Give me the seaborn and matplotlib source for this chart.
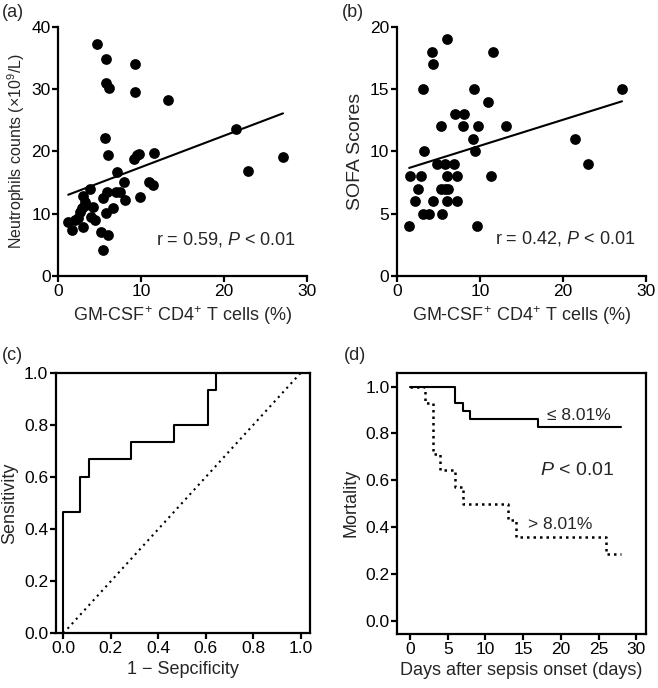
import matplotlib
matplotlib.use("Agg")
import matplotlib.pyplot as plt
import seaborn as sns

# (a) GM-CSF+ CD4+ T cells vs neutrophil counts
gm_a = [4.7, 5.8, 9.3, 5.8, 6.1, 9.3, 13.2, 5.6, 21.4, 6.0, 9.1, 9.5, 9.7, 11.6,
        7.1, 7.9, 10.9, 11.4, 5.9, 7.0, 7.4, 3.8, 3.0, 5.4, 8.1, 9.8, 6.6, 5.8,
        4.2, 3.2, 2.8, 2.6, 4.0, 4.4, 2.4, 2.0, 1.2, 1.6, 3.0, 5.2, 6.0, 5.4,
        22.9, 27.1, 3.3]
neut = [37.3, 34.9, 34.0, 30.9, 30.2, 29.6, 28.3, 22.2, 23.6, 19.4, 18.7, 19.4,
        19.6, 19.8, 16.7, 15.1, 15.1, 14.6, 13.5, 13.5, 13.4, 13.9, 12.8, 12.5,
        12.2, 12.6, 10.9, 10.1, 11.1, 11.9, 10.9, 10.3, 9.5, 9.0, 9.3, 9.0, 8.7,
        7.4, 7.9, 7.0, 6.6, 4.2, 16.9, 19.1, 11.4]

# (b) GM-CSF+ CD4+ T cells vs SOFA scores
gm_b = [6.1, 4.2, 4.4, 11.6, 3.2, 9.3, 11.0, 27.1, 7.0, 8.1, 5.3, 8.0, 9.8, 13.2,
        9.2, 21.5, 3.3, 9.4, 4.8, 5.8, 6.9, 23.0, 1.6, 2.9, 6.1, 7.2, 11.4, 2.6,
        5.3, 5.8, 6.2, 2.2, 4.4, 6.0, 7.3, 3.2, 3.9, 5.5, 1.5, 9.7]
sofa = [19, 18, 17, 18, 15, 15, 14, 15, 13, 13, 12, 12, 12, 12, 11, 11, 10, 10,
        9, 9, 9, 9, 8, 8, 8, 8, 8, 7, 7, 7, 7, 6, 6, 6, 6, 5, 5, 5, 4, 4]

# (c) ROC curve corners
fpr = [0.0, 0.0, 0.071, 0.107, 0.286, 0.464, 0.607, 0.643, 1.0]
tpr = [0.0, 0.467, 0.600, 0.667, 0.733, 0.800, 0.933, 1.0, 1.0]
diag = [0.0, 1.0]

# (d) Kaplan-Meier curves
t_low = [0, 6, 7, 8, 17, 28]
s_low = [1.0, 0.931, 0.897, 0.862, 0.828, 0.828]
t_high = [0, 2, 3, 4, 6, 7, 13, 14, 26, 28]
s_high = [1.0, 0.929, 0.714, 0.643, 0.571, 0.5, 0.429, 0.357, 0.286, 0.286]

sns.set_style("ticks")
plt.rcParams["font.family"] = ["Liberation Sans", "DejaVu Sans"]
plt.rcParams["mathtext.fontset"] = "custom"
plt.rcParams["mathtext.rm"] = "Liberation Sans"
plt.rcParams["mathtext.it"] = "Liberation Sans:italic"

TICK_FS = 12.5
LAB_FS = 13
LW = 1.6

fig = plt.figure(figsize=(6.58, 6.88), dpi=100)


def style_axes(ax):
    for sp in ax.spines.values():
        sp.set_linewidth(LW)
        sp.set_color("black")
    ax.tick_params(direction="out", length=4, width=LW, labelsize=TICK_FS,
                   colors="black", pad=1.5)


# ---- (a)
ax_a = fig.add_axes([0.0886, 0.599, 0.378, 0.362])
sns.scatterplot(x=gm_a, y=neut, ax=ax_a, color="black", s=60, edgecolor="black",
                linewidth=0, clip_on=False, zorder=3)
sns.regplot(x=gm_a, y=neut, ax=ax_a, scatter=False, ci=None, color="black",
            line_kws={"linewidth": 1.5})
ax_a.set_xlim(0, 30)
ax_a.set_ylim(0, 40)
ax_a.set_xticks([0, 10, 20, 30])
ax_a.set_yticks([0, 10, 20, 30, 40])
ax_a.set_xlabel(r"GM-CSF$^{+}$ CD4$^{+}$ T cells (%)", fontsize=LAB_FS)
ax_a.set_ylabel(r"Neutrophils counts (×10$^{9}$/L)", fontsize=11.5, labelpad=3)
ax_a.text(28.6, 5.8, r"r = 0.59, $P$ < 0.01", ha="right", va="center", fontsize=LAB_FS)
sns.despine(ax=ax_a)
style_axes(ax_a)

# ---- (b)
ax_b = fig.add_axes([0.6029, 0.599, 0.379, 0.362])
sns.scatterplot(x=gm_b, y=sofa, ax=ax_b, color="black", s=60, edgecolor="black",
                linewidth=0, clip_on=False, zorder=3)
sns.regplot(x=gm_b, y=sofa, ax=ax_b, scatter=False, ci=None, color="black",
            line_kws={"linewidth": 1.5})
ax_b.set_xlim(0, 30)
ax_b.set_ylim(0, 20)
ax_b.set_xticks([0, 10, 20, 30])
ax_b.set_yticks([0, 5, 10, 15, 20])
ax_b.set_xlabel(r"GM-CSF$^{+}$ CD4$^{+}$ T cells (%)", fontsize=LAB_FS)
ax_b.set_ylabel("SOFA Scores", fontsize=14)
ax_b.text(28.7, 3.0, r"r = 0.42, $P$ < 0.01", ha="right", va="center", fontsize=LAB_FS)
sns.despine(ax=ax_b)
style_axes(ax_b)

# ---- (c)
ax_c = fig.add_axes([0.0851, 0.0795, 0.386, 0.379])
sns.lineplot(x=fpr, y=tpr, ax=ax_c, color="black", linewidth=1.5,
             drawstyle="steps-post", estimator=None, sort=False)
sns.lineplot(x=diag, y=diag, ax=ax_c, color="black", linewidth=1.5,
             linestyle=(0, (1, 2)), estimator=None, sort=False)
ax_c.set_xlim(-0.031, 1.038)
ax_c.set_ylim(0, 1.0)
ticks = [0.0, 0.2, 0.4, 0.6, 0.8, 1.0]
ax_c.set_xticks(ticks)
ax_c.set_yticks(ticks)
ax_c.set_xticklabels([f"{v:.1f}" for v in ticks])
ax_c.set_yticklabels([f"{v:.1f}" for v in ticks])
ax_c.set_xlabel("1 \u2212 Sepcificity", fontsize=LAB_FS)
ax_c.set_ylabel("Sensitivity", fontsize=LAB_FS)
style_axes(ax_c)

# ---- (d)
ax_d = fig.add_axes([0.6038, 0.0785, 0.378, 0.38])
sns.lineplot(x=t_low, y=s_low, ax=ax_d, color="black", linewidth=1.5,
             drawstyle="steps-post", estimator=None, sort=False)
sns.lineplot(x=t_high, y=s_high, ax=ax_d, color="black", linewidth=1.8,
             linestyle=(0, (1, 1.6)), drawstyle="steps-post", estimator=None, sort=False)
ax_d.set_xlim(-1.7, 31.3)
ax_d.set_ylim(-0.057, 1.06)
ax_d.set_xticks([0, 5, 10, 15, 20, 25, 30])
yt = [0.0, 0.2, 0.4, 0.6, 0.8, 1.0]
ax_d.set_yticks(yt)
ax_d.set_yticklabels([f"{v:.1f}" for v in yt])
ax_d.set_xlabel("Days after sepsis onset (days)", fontsize=LAB_FS)
ax_d.set_ylabel("Mortality", fontsize=LAB_FS)
ax_d.text(22.4, 0.875, "\u2264 8.01%", ha="center", va="center", fontsize=12.5)
ax_d.text(22.1, 0.64, r"$P$ < 0.01", ha="center", va="center", fontsize=14)
ax_d.text(19.9, 0.41, "> 8.01%", ha="center", va="center", fontsize=12.5)
style_axes(ax_d)

# panel letters
fig.text(0.003, 0.982, "(a)", fontsize=LAB_FS, va="center")
fig.text(0.520, 0.982, "(b)", fontsize=LAB_FS, va="center")
fig.text(0.003, 0.484, "(c)", fontsize=LAB_FS, va="center")
fig.text(0.523, 0.484, "(d)", fontsize=LAB_FS, va="center")

fig.savefig("out.png", dpi=100)
